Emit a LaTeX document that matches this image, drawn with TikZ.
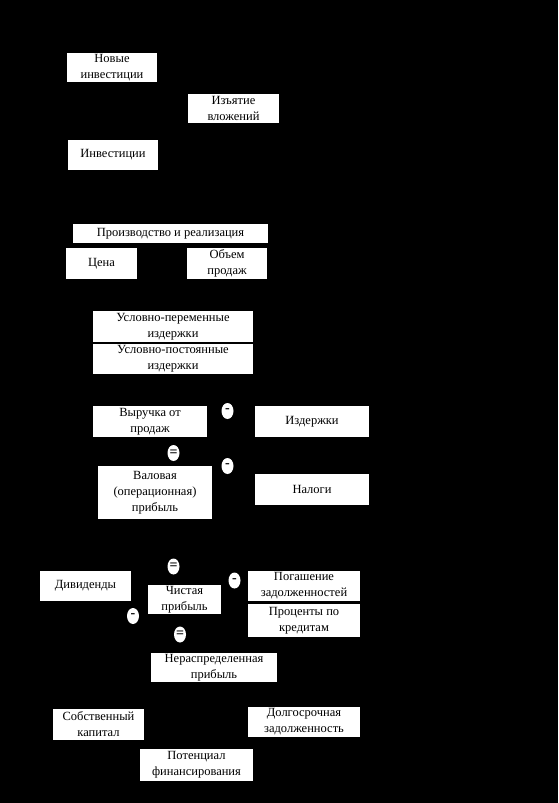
\documentclass[tikz,border=0pt]{standalone}
\usepackage{fontspec}
\setmainfont{Liberation Serif}
\usetikzlibrary{shapes.geometric}

\tikzset{
  box/.style={fill=white, inner sep=0pt, align=center, text=black,
    font=\fontsize{12.5}{16}\selectfont},
  sign/.style={ellipse, fill=white, inner sep=0pt, minimum width=12pt,
    minimum height=16pt, font=\fontsize{14}{14}\selectfont\bfseries}
}

\begin{document}
\begin{tikzpicture}[x=1pt, y=-1pt]
    % background
    \fill[black] (0,0) rectangle (558,803);
    \useasboundingbox (0,0) rectangle (558,803);

    % Investments
    \node[box, minimum width=90pt, minimum height=29pt] (newinv) at (112,67.5) {Новые\\инвестиции};
    \node[box, minimum width=91pt, minimum height=29pt] (withdraw) at (233.5,108.5) {Изъятие\\вложений};
    \node[box, minimum width=90pt, minimum height=30pt] (inv) at (113,155) {Инвестиции};

    % Production
    \node[box, minimum width=195pt, minimum height=19pt] (prod) at (170.5,233.5) {Производство и реализация};
    \node[box, minimum width=71pt, minimum height=31pt] (price) at (101.5,263.5) {Цена};
    \node[box, minimum width=80pt, minimum height=31pt] (volume) at (227,263.5) {Объем\\продаж};
    \node[box, minimum width=160pt, minimum height=31pt] (varcost) at (173,326.5) {Условно-переменные\\издержки};
    \node[box, minimum width=160pt, minimum height=30pt] (fixcost) at (173,359) {Условно-постоянные\\издержки};

    % Profit
    \node[box, minimum width=114pt, minimum height=31pt] (revenue) at (150,421.5) {Выручка от\\продаж};
    \node[box, minimum width=114pt, minimum height=31pt] (costs) at (312,421.5) {Издержки};
    \node[box, minimum width=114pt, minimum height=53pt] (gross) at (155,492.5) {Валовая\\(операционная)\\прибыль};
    \node[box, minimum width=114pt, minimum height=31pt] (taxes) at (312,489.5) {Налоги};
    \node[sign] (minus-1) at (227.5,411) {-};
    \node[sign] (eq-1) at (173.5,453) {=};
    \node[sign] (minus-2) at (227.5,466) {-};

    % Net profit
    \node[box, minimum width=91pt, minimum height=30pt] (dividends) at (85.5,586) {Дивиденды};
    \node[box, minimum width=112pt, minimum height=30pt] (repay) at (304,586) {Погашение\\задолженностей};
    \node[box, minimum width=73pt, minimum height=29pt] (netprofit) at (184.5,599.5) {Чистая\\прибыль};
    \node[box, minimum width=112pt, minimum height=33pt] (interest) at (304,620.5) {Проценты по\\кредитам};
    \node[box, minimum width=126pt, minimum height=29pt] (retained) at (214,667.5) {Нераспределенная\\прибыль};
    \node[sign] (eq-2) at (173.5,566.5) {=};
    \node[sign] (minus-3) at (234.5,580.5) {-};
    \node[sign] (minus-4) at (133,616) {-};
    \node[sign] (eq-3) at (180,634.5) {=};

    % Financing
    \node[box, minimum width=91pt, minimum height=31pt] (equity) at (98.5,724.5) {Собственный\\капитал};
    \node[box, minimum width=112pt, minimum height=30pt] (longdebt) at (304,722) {Долгосрочная\\задолженность};
    \node[box, minimum width=113pt, minimum height=32pt] (potential) at (196.5,765) {Потенциал\\финансирования};
\end{tikzpicture}
\end{document}
